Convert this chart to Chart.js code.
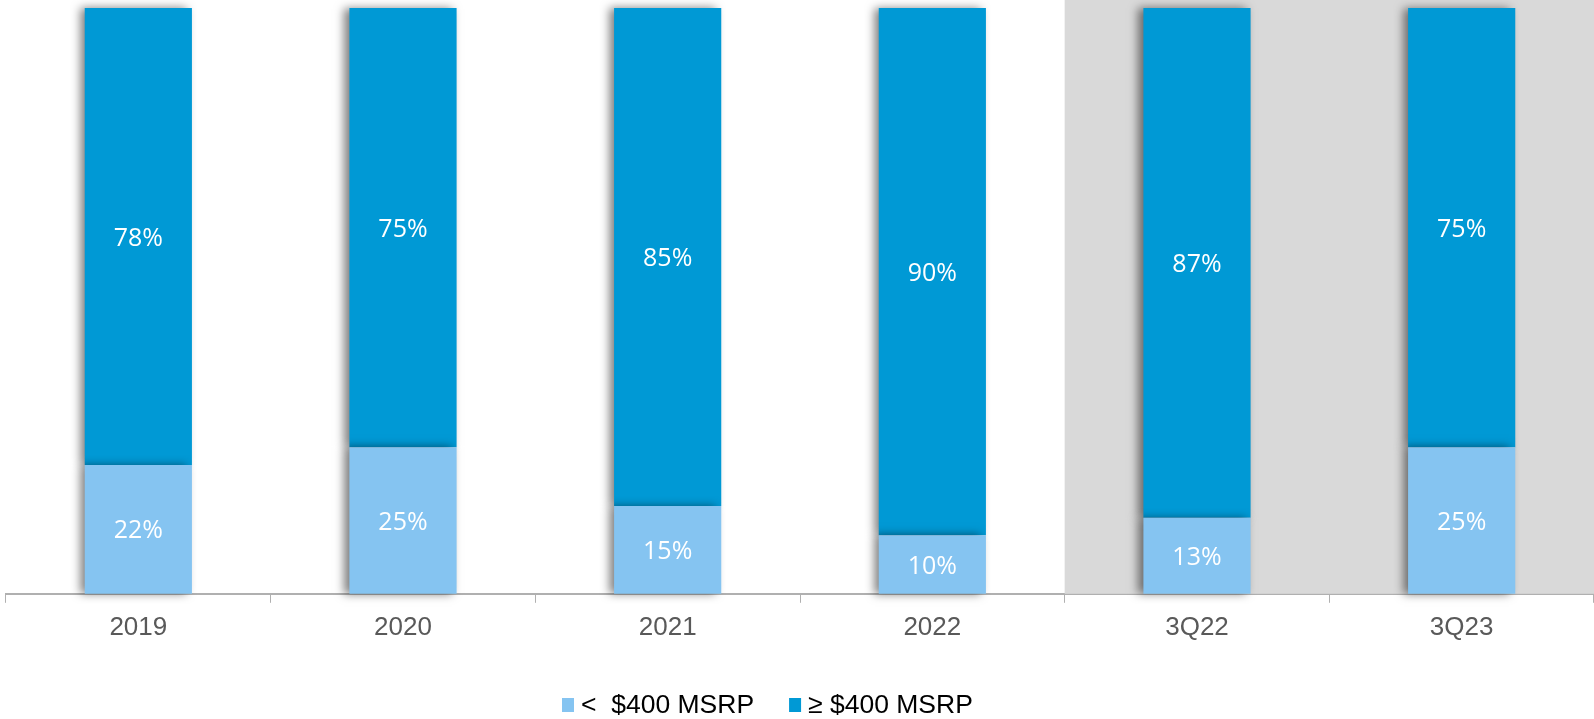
<!DOCTYPE html>
<html>
<head>
<meta charset="utf-8">
<script src="https://cdn.jsdelivr.net/npm/chart.js@4/dist/chart.umd.min.js"></script>
<style>
  html, body { margin: 0; padding: 0; background: #ffffff; }
  #wrap { width: 1594px; height: 719px; }
</style>
</head>
<body>
<div id="wrap"><canvas id="msrp"></canvas></div>
<script>
// categories and shares (%)
const periods = ["2019", "2020", "2021", "2022", "3Q22", "3Q23"];
const below400 = [22, 25, 15, 10, 13, 25];
const above400 = [78, 75, 85, 90, 87, 75];
const seriesNames = ["<  $400 MSRP", "\u2265 $400 MSRP"];
const shadedFrom = "3Q22";

// grey band behind the quarterly columns
const shadeBand = {
  id: "shadeBand",
  beforeDatasetsDraw(chart) {
    const { ctx, chartArea, scales } = chart;
    const x = scales.x;
    const idx = periods.indexOf(shadedFrom);
    const half = (x.getPixelForValue(1) - x.getPixelForValue(0)) / 2;
    const left = x.getPixelForValue(idx) - half;
    ctx.save();
    ctx.fillStyle = "#d9d9d9";
    ctx.fillRect(left, 0, chart.width - left, chartArea.bottom);
    ctx.restore();
  }
};

// soft drop shadow on the left of each column
const barShadow = {
  id: "barShadow",
  beforeDatasetsDraw(chart) {
    const ctx = chart.ctx;
    ctx.save();
    ctx.shadowColor = "rgba(0,0,0,0.5)";
    ctx.shadowBlur = 9;
    ctx.shadowOffsetX = -5;
    ctx.shadowOffsetY = 0;
  },
  afterDatasetsDraw(chart) {
    chart.ctx.restore();
  }
};

// percentage labels in the middle of each segment
const segmentLabels = {
  id: "segmentLabels",
  afterDraw(chart) {
    const ctx = chart.ctx;
    ctx.save();
    ctx.fillStyle = "#ffffff";
    ctx.font = "25px 'Open Sans'";
    ctx.textAlign = "center";
    ctx.textBaseline = "middle";
    chart.data.datasets.forEach((ds, di) => {
      chart.getDatasetMeta(di).data.forEach((bar, i) => {
        const mid = (bar.y + bar.base) / 2;
        ctx.fillText(ds.data[i] + "%", bar.x, mid + 2);
      });
    });
    ctx.restore();
  }
};

// legend row under the axis
const legendRow = {
  id: "legendRow",
  afterDraw(chart) {
    const ctx = chart.ctx;
    const y = 705;
    let x = 562;
    ctx.save();
    ctx.font = "26.5px 'Liberation Sans', Arial";
    ctx.textBaseline = "middle";
    ctx.textAlign = "left";
    chart.data.datasets.forEach((ds) => {
      ctx.fillStyle = ds.backgroundColor;
      ctx.fillRect(x, y - 7, 12, 14);
      x += 19;
      ctx.fillStyle = "#000000";
      ctx.fillText(ds.label, x, y + 1);
      x += ctx.measureText(ds.label).width + 35;
    });
    ctx.restore();
  }
};

const msrp = document.getElementById("msrp");

new Chart(msrp, {
  type: "bar",
  data: {
    labels: periods,
    datasets: [
      {
        label: seriesNames[0],
        data: below400,
        backgroundColor: "#85c4f1",
        borderWidth: 0,
        barPercentage: 0.405,
        categoryPercentage: 1,
        clip: false
      },
      {
        label: seriesNames[1],
        data: above400,
        backgroundColor: "#0099d5",
        borderWidth: 0,
        barPercentage: 0.405,
        categoryPercentage: 1,
        clip: false
      }
    ]
  },
  options: {
    responsive: true,
    maintainAspectRatio: false,
    animation: false,
    events: [],
    layout: {
      padding: { left: 6, right: 0, top: 8, bottom: 67 }
    },
    plugins: {
      tooltip: { enabled: false },
      legend: { display: false }
    },
    scales: {
      x: {
        stacked: true,
        offset: true,
        border: { color: "#b0b0b0", width: 2 },
        grid: {
          offset: true,
          drawOnChartArea: false,
          drawTicks: true,
          tickLength: 9,
          tickColor: "#b0b0b0",
          tickWidth: 1
        },
        ticks: {
          color: "#595959",
          padding: 9,
          font: { family: "'Liberation Sans', Arial", size: 26 }
        }
      },
      y: {
        stacked: true,
        display: false,
        min: 0,
        max: 100
      }
    }
  },
  plugins: [shadeBand, barShadow, segmentLabels, legendRow]
});
</script>
</body>
</html>
